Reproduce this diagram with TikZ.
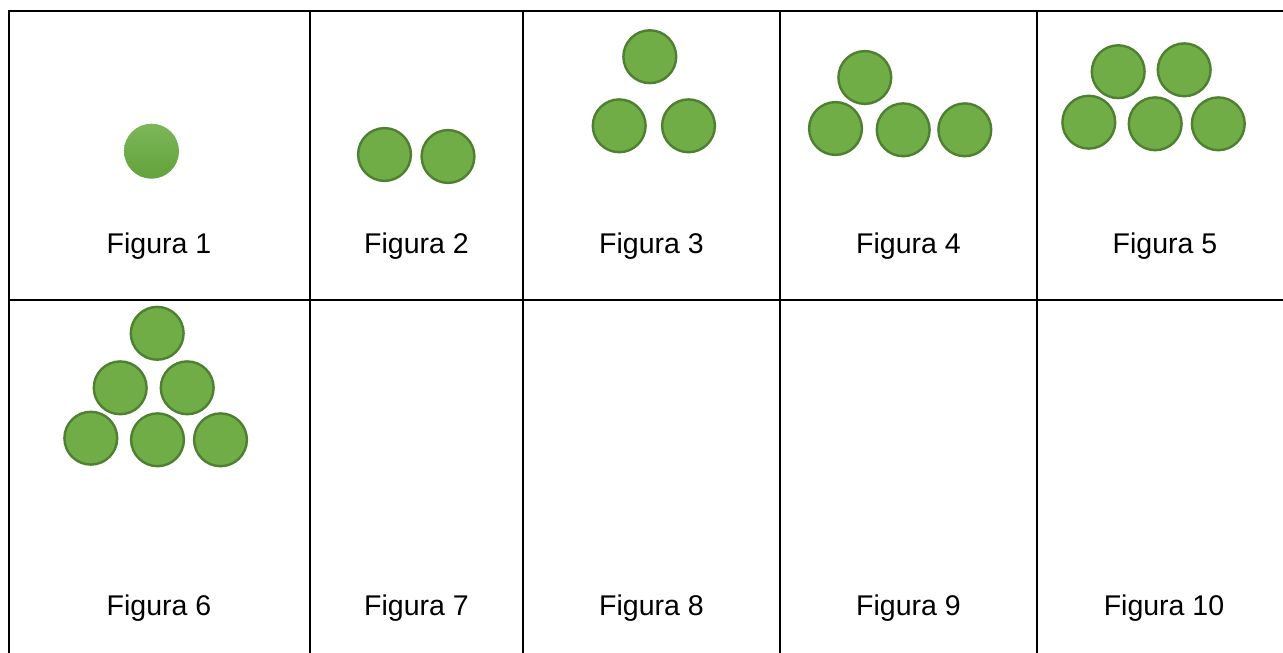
\documentclass[tikz,border=0pt]{standalone}
\usepackage{fontspec}
\setmainfont{Liberation Sans}
\definecolor{ballfill}{HTML}{70AD47}
\definecolor{ballline}{HTML}{4F7F30}
\definecolor{balltop}{HTML}{7CB758}
\definecolor{ballbot}{HTML}{63A23C}
\begin{document}
\begin{tikzpicture}[x=1pt,y=-1pt,
  ball/.style={circle,minimum size=52.8pt,inner sep=0pt,fill=ballfill,draw=ballline,line width=2.4pt},
  shadedball/.style={circle,minimum size=55pt,inner sep=0pt,top color=balltop,bottom color=ballbot},
  grid/.style={line width=2pt,black},
  lbl/.style={anchor=base,font=\fontsize{28.5}{32}\selectfont,inner sep=0pt}]
\useasboundingbox (0,0) rectangle (1283,653);
\clip (0,0) rectangle (1283,653);
\fill[white] (0,0) rectangle (1283,653);
% table
\draw[grid] (9.2,11) -- (1300,11);
\draw[grid] (9.2,300) -- (1300,300);
\draw[grid] (9.2,10) -- (9.2,670);
\draw[grid] (310,10) -- (310,670);
\draw[grid] (523,10) -- (523,670);
\draw[grid] (780,10) -- (780,670);
\draw[grid] (1037,10) -- (1037,670);
% labels
\node[lbl] (l1) at (159,253) {Figura 1};
\node[lbl] (l2) at (416.5,253) {Figura 2};
\node[lbl] (l3) at (651.5,253) {Figura 3};
\node[lbl] (l4) at (908.5,253) {Figura 4};
\node[lbl] (l5) at (1165,253) {Figura 5};
\node[lbl] (l6) at (159,615) {Figura 6};
\node[lbl] (l7) at (416.5,615) {Figura 7};
\node[lbl] (l8) at (651.5,615) {Figura 8};
\node[lbl] (l9) at (908.5,615) {Figura 9};
\node[lbl] (l10) at (1164,615) {Figura 10};
% figure 1
\node[shadedball] (a1) at (151.5,151.2) {};
% figure 2
\node[ball] (b1) at (384.5,154.5) {};
\node[ball] (b2) at (448,156.5) {};
% figure 3
\node[ball] (c1) at (649.8,56.7) {};
\node[ball] (c2) at (619.2,125.8) {};
\node[ball] (c3) at (688.5,125.8) {};
% figure 4
\node[ball] (d1) at (864.8,77.5) {};
\node[ball] (d2) at (835.5,128.5) {};
\node[ball] (d3) at (903.2,129.8) {};
\node[ball] (d4) at (964.8,129.8) {};
% figure 5
\node[ball] (e1) at (1118.2,71.7) {};
\node[ball] (e2) at (1184.2,69.8) {};
\node[ball] (e3) at (1088.8,122.2) {};
\node[ball] (e4) at (1155.2,123.8) {};
\node[ball] (e5) at (1218.3,123.8) {};
% figure 6
\node[ball] (f1) at (157.2,333.3) {};
\node[ball] (f2) at (120.2,387.8) {};
\node[ball] (f3) at (187.2,387.8) {};
\node[ball] (f4) at (90.8,438.2) {};
\node[ball] (f5) at (157.5,439.8) {};
\node[ball] (f6) at (220.5,439.8) {};
\end{tikzpicture}
\end{document}
